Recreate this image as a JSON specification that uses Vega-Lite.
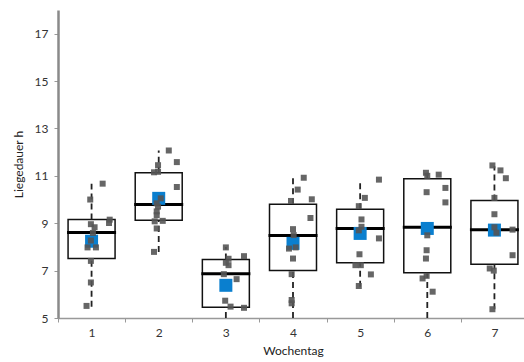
{
  "$schema": "https://vega.github.io/schema/vega-lite/v6.json",
  "autosize": {"type": "none"},
  "padding": {"left": 58, "top": 10, "right": 0, "bottom": 44},
  "width": 470,
  "height": 308,
  "background": "white",
  "config": {
    "view": {"stroke": null},
    "font": "Lato",
    "axis": {"labelFont": "Lato", "titleFont": "Lato", "labelColor": "#333", "titleColor": "#222", "titleFontWeight": "normal", "labelFontSize": 12, "titleFontSize": 12, "grid": false, "tickColor": "#999", "tickSize": 4}
  },
  "datasets": {
    "boxes": [
      {"day": "1", "q1": 7.51, "q3": 9.16, "median": 8.61, "mean": 8.24, "lo": 5.48, "hi": 10.67},
      {"day": "2", "q1": 9.13, "q3": 11.13, "median": 9.79, "mean": 10.05, "lo": 7.79, "hi": 12.07},
      {"day": "3", "q1": 5.45, "q3": 7.47, "median": 6.87, "mean": 6.38, "lo": 5.0, "hi": 8.0},
      {"day": "4", "q1": 7.01, "q3": 9.8, "median": 8.48, "mean": 8.15, "lo": 5.0, "hi": 10.95},
      {"day": "5", "q1": 7.33, "q3": 9.59, "median": 8.78, "mean": 8.57, "lo": 6.32, "hi": 10.84},
      {"day": "6", "q1": 6.91, "q3": 10.88, "median": 8.83, "mean": 8.78, "lo": 5.0, "hi": 11.13},
      {"day": "7", "q1": 7.27, "q3": 9.96, "median": 8.72, "mean": 8.71, "lo": 5.37, "hi": 11.4}
    ],
    "points": [
      {"x": 1.165, "v": 10.67}, {"x": 0.98, "v": 10.0}, {"x": 1.27, "v": 9.15}, {"x": 1.26, "v": 9.01},
      {"x": 0.99, "v": 8.96}, {"x": 1.045, "v": 8.83}, {"x": 1.02, "v": 8.59}, {"x": 0.99, "v": 8.27},
      {"x": 0.94, "v": 7.98}, {"x": 1.065, "v": 7.98}, {"x": 0.99, "v": 7.41}, {"x": 0.99, "v": 6.5},
      {"x": 0.925, "v": 5.51},
      {"x": 2.15, "v": 12.07}, {"x": 2.27, "v": 11.58}, {"x": 1.99, "v": 11.45}, {"x": 1.99, "v": 11.17},
      {"x": 1.93, "v": 11.15}, {"x": 2.27, "v": 10.53}, {"x": 2.03, "v": 10.05}, {"x": 1.97, "v": 9.84},
      {"x": 1.99, "v": 9.7}, {"x": 1.97, "v": 9.5}, {"x": 1.97, "v": 9.34}, {"x": 2.06, "v": 9.1},
      {"x": 1.94, "v": 9.08}, {"x": 1.97, "v": 8.78}, {"x": 1.93, "v": 7.79},
      {"x": 3.0, "v": 7.98}, {"x": 3.04, "v": 7.5}, {"x": 3.27, "v": 7.61}, {"x": 3.0, "v": 7.33},
      {"x": 3.04, "v": 7.23}, {"x": 2.97, "v": 6.85}, {"x": 3.16, "v": 6.64}, {"x": 2.99, "v": 5.73},
      {"x": 3.07, "v": 5.48}, {"x": 3.27, "v": 5.43},
      {"x": 4.16, "v": 10.92}, {"x": 4.07, "v": 10.42}, {"x": 3.97, "v": 9.94}, {"x": 4.28, "v": 10.01},
      {"x": 4.26, "v": 9.22}, {"x": 4.0, "v": 8.75}, {"x": 4.01, "v": 8.5}, {"x": 3.94, "v": 7.93},
      {"x": 4.04, "v": 7.98}, {"x": 4.0, "v": 7.51}, {"x": 3.98, "v": 6.85}, {"x": 3.98, "v": 5.76},
      {"x": 3.98, "v": 5.62},
      {"x": 5.28, "v": 10.84}, {"x": 5.07, "v": 10.07}, {"x": 4.98, "v": 9.72}, {"x": 5.02, "v": 9.16},
      {"x": 5.02, "v": 8.85}, {"x": 4.98, "v": 8.7}, {"x": 5.28, "v": 8.36}, {"x": 4.99, "v": 7.69},
      {"x": 4.93, "v": 7.23}, {"x": 5.01, "v": 7.23}, {"x": 5.16, "v": 6.84}, {"x": 4.98, "v": 6.35},
      {"x": 5.98, "v": 11.13}, {"x": 6.0, "v": 11.0}, {"x": 6.17, "v": 11.05}, {"x": 6.27, "v": 10.49},
      {"x": 5.99, "v": 10.31}, {"x": 6.27, "v": 9.88}, {"x": 6.0, "v": 8.49}, {"x": 5.99, "v": 7.86},
      {"x": 5.98, "v": 7.51}, {"x": 5.93, "v": 6.67}, {"x": 5.99, "v": 6.78}, {"x": 6.08, "v": 6.11},
      {"x": 6.97, "v": 11.44}, {"x": 7.09, "v": 11.23}, {"x": 7.17, "v": 10.9}, {"x": 7.0, "v": 10.07},
      {"x": 7.0, "v": 9.38}, {"x": 7.0, "v": 8.83}, {"x": 7.03, "v": 8.6}, {"x": 7.27, "v": 8.73},
      {"x": 7.27, "v": 7.65}, {"x": 6.93, "v": 7.09}, {"x": 6.99, "v": 7.0}, {"x": 6.97, "v": 5.37}
    ]
  },
  "layer": [
    {
      "data": {"name": "boxes"},
      "mark": {"type": "bar", "fill": "white", "stroke": "#111", "strokeWidth": 1.5, "width": {"band": 0.7}},
      "encoding": {
        "x": {"field": "day", "type": "ordinal", "scale": {"paddingInner": 0, "paddingOuter": 0},
          "axis": {"orient": "bottom", "title": "Wochentag", "labelAngle": 0, "tickBand": "extent", "labelPadding": 5, "titlePadding": 7, "domainColor": "#999", "domainWidth": 1.5}},
        "y": {"field": "q1", "type": "quantitative", "scale": {"domain": [5, 18], "nice": false, "zero": false},
          "axis": {"orient": "left", "title": "Liegedauer h", "values": [5, 6, 7, 8, 9, 10, 11, 12, 13, 14, 15, 16, 17, 18],
            "labelExpr": "datum.value % 2 == 1 ? datum.label : ''", "labelPadding": 6, "titlePadding": 9, "domain": true, "domainColor": "#8a8a8a", "domainWidth": 2.5}},
        "y2": {"field": "q3"}
      }
    },
    {
      "data": {"name": "boxes"},
      "mark": {"type": "rule", "stroke": "#222", "strokeWidth": 1.8, "strokeDash": [6, 4]},
      "encoding": {"x": {"field": "day", "type": "ordinal", "axis": null}, "y": {"field": "q3", "type": "quantitative"}, "y2": {"field": "hi"}}
    },
    {
      "data": {"name": "boxes"},
      "mark": {"type": "rule", "stroke": "#222", "strokeWidth": 1.8, "strokeDash": [6, 4]},
      "encoding": {"x": {"field": "day", "type": "ordinal", "axis": null}, "y": {"field": "lo", "type": "quantitative"}, "y2": {"field": "q1"}}
    },
    {
      "data": {"name": "boxes"},
      "mark": {"type": "tick", "color": "#000", "size": 49, "thickness": 3, "orient": "horizontal", "opacity": 1},
      "encoding": {"x": {"field": "day", "type": "ordinal", "axis": null}, "y": {"field": "median", "type": "quantitative"}}
    },
    {
      "data": {"name": "boxes"},
      "mark": {"type": "square", "color": "#0a7fcf", "size": 169, "filled": true, "opacity": 1},
      "encoding": {"x": {"field": "day", "type": "ordinal", "axis": null}, "y": {"field": "mean", "type": "quantitative"}}
    },
    {
      "data": {"name": "points"},
      "mark": {"type": "square", "color": "#555", "size": 36, "filled": true, "opacity": 0.9},
      "encoding": {
        "x": {"field": "x", "type": "quantitative", "scale": {"domain": [0.5, 7.5], "nice": false, "zero": false}, "axis": null},
        "y": {"field": "v", "type": "quantitative"}
      }
    }
  ],
  "resolve": {"scale": {"x": "independent"}}
}
